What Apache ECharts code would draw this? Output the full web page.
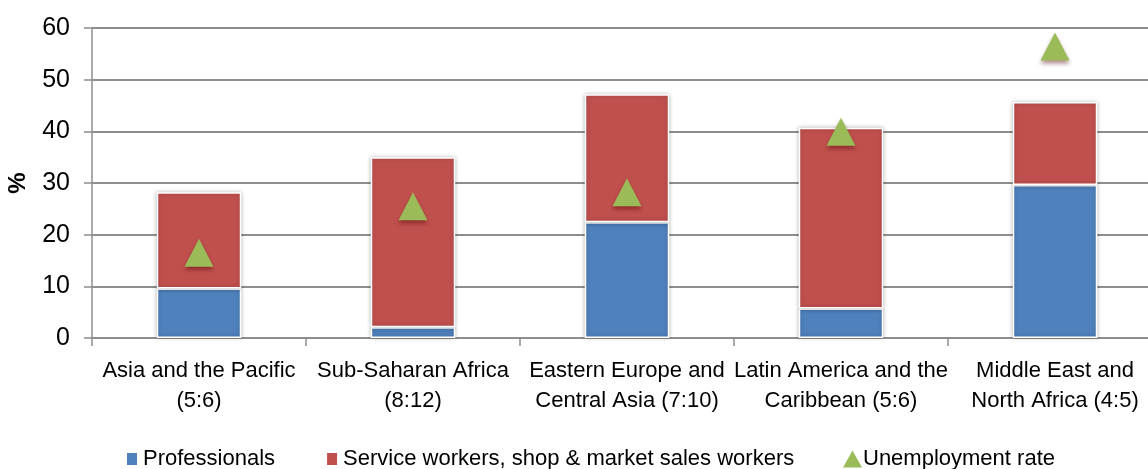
<!DOCTYPE html>
<html>
<head>
<meta charset="utf-8">
<script src="https://cdn.jsdelivr.net/npm/echarts@6/dist/echarts.min.js"></script>
<style>
  html, body { margin: 0; padding: 0; background: #fff; }
  #chart { width: 1148px; height: 469px; }
</style>
</head>
<body>
<div id="chart"></div>
<script>
var regions = [
    'Asia and the Pacific\n(5:6)',
    'Sub-Saharan Africa\n(8:12)',
    'Eastern Europe and\nCentral Asia (7:10)',
    'Latin America and the\nCaribbean (5:6)',
    'Middle East and\nNorth Africa (4:5)'
];
var professionals = [9.6, 2.1, 22.4, 5.7, 29.6];
var serviceWorkers = [18.6, 32.9, 24.8, 35.0, 16.1];
var unemployment = [16.5, 25.5, 28.2, 39.9, 56.4];
var yTicks = [0, 10, 20, 30, 40, 50, 60];

var font = 'Liberation Sans, Arial, sans-serif';
var gridGray = '#8e8e8e';
var legendText = { fontFamily: font, fontSize: 22, color: '#000' };

var chart = echarts.init(document.getElementById('chart'), null, { renderer: 'canvas' });

chart.setOption({
    animation: false,
    textStyle: { fontFamily: font, color: '#000' },
    grid: { left: 92, top: 28, width: 1070, bottom: 131, containLabel: false, outerBoundsMode: 'none' },
    legend: [
        {
            left: 120,
            top: 443,
            itemGap: 50,
            itemWidth: 12,
            itemHeight: 14,
            textStyle: legendText,
            data: [
                { name: 'Professionals', icon: 'rect' },
                { name: 'Service workers, shop & market sales workers', icon: 'rect' }
            ]
        },
        {
            left: 838,
            top: 443,
            itemWidth: 19,
            itemHeight: 17,
            textStyle: Object.assign({ padding: [0, 0, 0, -4] }, legendText),
            data: [
                { name: 'Unemployment rate', icon: 'triangle' }
            ]
        }
    ],
    xAxis: {
        type: 'category',
        data: regions,
        axisLine: { lineStyle: { color: gridGray, width: 2 } },
        axisTick: { show: true, length: 8, lineStyle: { color: gridGray, width: 1.5 } },
        axisLabel: { fontFamily: font, fontSize: 22, color: '#000', lineHeight: 30, margin: 18, interval: 0 }
    },
    yAxis: {
        type: 'value',
        min: yTicks[0],
        max: yTicks[yTicks.length - 1],
        interval: 10,
        name: '%',
        nameLocation: 'middle',
        nameGap: 62,
        nameTextStyle: { fontFamily: font, fontSize: 24, fontWeight: 'bold', color: '#000' },
        axisLine: { show: true, lineStyle: { color: gridGray, width: 1.5 } },
        axisTick: { show: true, length: 8, lineStyle: { color: gridGray, width: 1.5 } },
        axisLabel: { fontFamily: font, fontSize: 25, color: '#000', margin: 22 },
        splitLine: { lineStyle: { color: gridGray, width: 2 } }
    },
    series: [
        {
            name: 'Professionals',
            type: 'bar',
            stack: 'jobs',
            barWidth: '39.5%',
            data: professionals,
            itemStyle: {
                color: '#4F81BD',
                borderColor: '#fff',
                borderWidth: 1.5,
                shadowColor: 'rgba(0,0,0,0.25)',
                shadowBlur: 4
            }
        },
        {
            name: 'Service workers, shop & market sales workers',
            type: 'bar',
            stack: 'jobs',
            data: serviceWorkers,
            itemStyle: {
                color: '#C0504D',
                borderColor: '#fff',
                borderWidth: 1.5,
                shadowColor: 'rgba(0,0,0,0.25)',
                shadowBlur: 4
            }
        },
        {
            name: 'Unemployment rate',
            type: 'scatter',
            symbol: 'triangle',
            symbolSize: [29, 28],
            data: unemployment,
            z: 5,
            itemStyle: {
                color: '#9BBB59',
                opacity: 1,
                shadowColor: 'rgba(80,0,0,0.45)',
                shadowBlur: 4,
                shadowOffsetY: 3
            }
        }
    ]
});
</script>
</body>
</html>
